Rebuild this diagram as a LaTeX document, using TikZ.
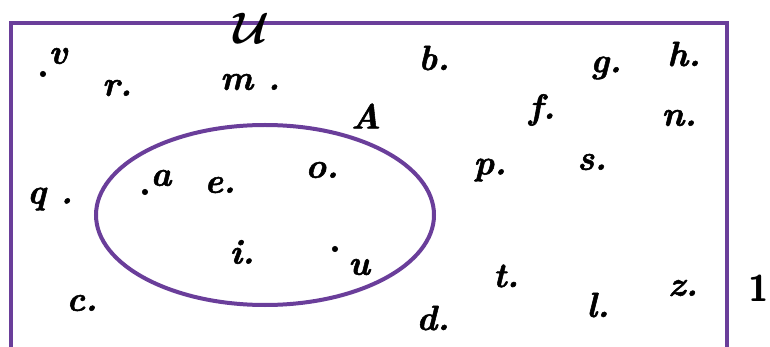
\documentclass[tikz,border=0pt]{standalone}
\usepackage{fontspec}
\usepackage{graphicx}
\newfontfamily\lblfont{lmroman10-bolditalic.otf}[FakeBold=1.5]
\newfontfamily\lbldotfont{lmroman10-bold.otf}[FakeBold=1.5]
\definecolor{vpurple}{HTML}{6A3E9A}
\begin{document}
\begin{tikzpicture}[x=1pt,y=-1pt,
  lbl/.style={inner sep=0pt,font=\fontsize{35}{37}\lblfont},
  dotn/.style={inner sep=0pt,font=\fontsize{35}{37}\lbldotfont},
  frame/.style={draw=vpurple,line width=4pt},
  setA/.style={draw=vpurple,line width=4pt}]
\useasboundingbox (0,0) rectangle (770,347);
\fill[white] (0,0) rectangle (770,347);
\begin{scope}
\clip (0,0) rectangle (770,347);
\draw[frame] (11,23) rectangle (727,360);
\end{scope}
\draw[setA] (265,215) ellipse [x radius=169, y radius=90];
\node[inner sep=0pt] (U) at (251,28) {\resizebox{36pt}{!}{\boldmath$\mathcal{U}$}};
\node[lbl] (A) at (366,116) {A};
\node[lbl] (v) at (58,56) {v};
\node[dotn] (vd) at (43,74) {.};
\node[lbl] (r) at (117,88) {r.};
\node[lbl] (m) at (250,82) {m .};
\node[lbl] (b) at (434,58) {b.};
\node[lbl] (g) at (606,68) {g.};
\node[lbl] (h) at (684,54) {h.};
\node[lbl] (f) at (542,110) {f.};
\node[lbl] (n) at (679,118) {n.};
\node[lbl] (p) at (490,170) {p.};
\node[lbl] (s) at (592,162) {s.};
\node[lbl] (q) at (50,199) {q .};
\node[lbl] (a) at (161,178) {a};
\node[dotn] (ad) at (145,192) {.};
\node[lbl] (e) at (220,185) {e.};
\node[lbl] (o) at (322,170) {o.};
\node[lbl] (i) at (242,252) {i.};
\node[lbl] (u) at (359,267) {u};
\node[dotn] (ud) at (335,249) {.};
\node[lbl] (c) at (82,303) {c.};
\node[lbl] (t) at (506,276) {t.};
\node[lbl] (d) at (433,318) {d.};
\node[lbl] (l) at (598,305) {l.};
\node[lbl] (z) at (683,288) {z.};
\node[inner sep=0pt,font=\fontsize{37}{39}\selectfont\sffamily\bfseries] (one) at (759,288) {1};
\end{tikzpicture}
\end{document}
